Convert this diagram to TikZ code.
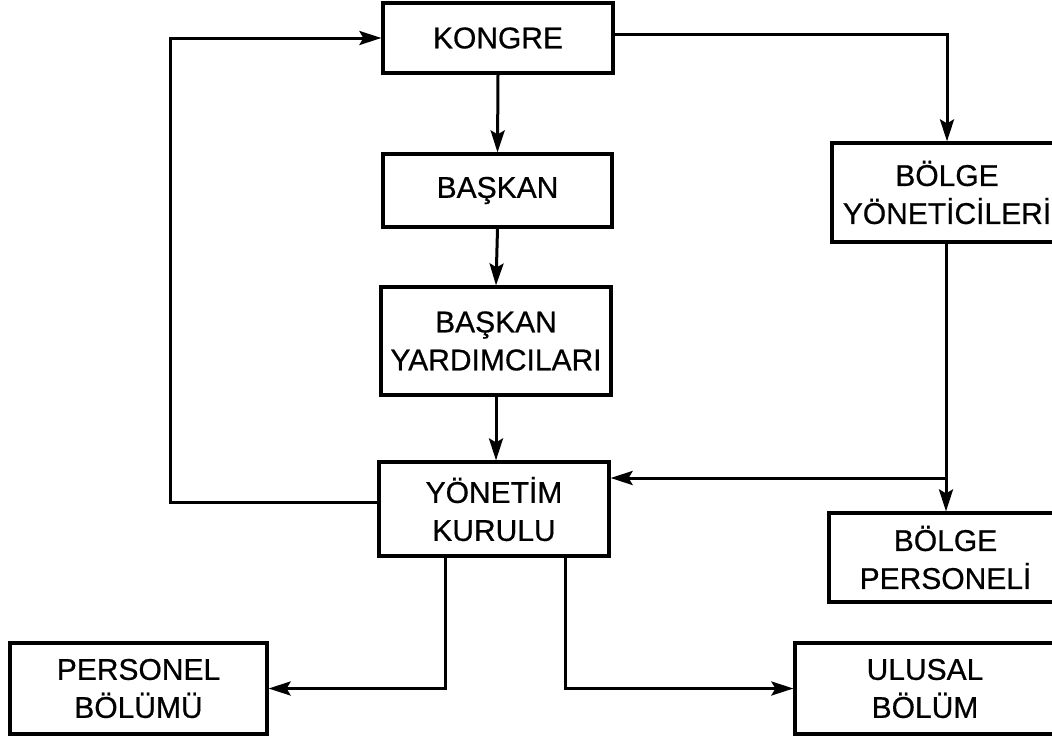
\documentclass[tikz,border=0pt]{standalone}
\usepackage{fontspec}
\setmainfont[FakeBold=0.6]{Liberation Sans}
\usetikzlibrary{arrows.meta,calc}
\begin{document}
\begin{tikzpicture}[x=1pt,y=-1pt,
  box/.style={draw,line width=3.2pt,inner sep=0pt,align=center,
    font=\fontsize{30}{38}\selectfont},
  arr/.style={line width=3pt,-{Stealth[length=22pt,width=14pt,inset=4pt]}},
  ln/.style={line width=3pt}]
\clip (0,0) rectangle (1052,737);
\fill[white] (0,0) rectangle (1052,737);
\node[box,minimum width=230pt,minimum height=70pt] (kongre) at (498,38) {KONGRE};
\node[box,minimum width=229pt,minimum height=73pt] (baskan) at (497.5,190.5) {BAŞKAN};
\node[box,minimum width=230pt,minimum height=108pt] (yard) at (496,341) {BAŞKAN\\YARDIMCILARI};
\node[box,minimum width=230pt,minimum height=94pt] (yon) at (494,509) {YÖNETİM\\KURULU};
\node[box,minimum width=230pt,minimum height=99pt] (bolgey) at (947,192.5) {BÖLGE\\YÖNETİCİLERİ};
\node[box,minimum width=233pt,minimum height=89pt] (bolgep) at (945.5,557.5) {BÖLGE\\PERSONELİ};
\node[box,minimum width=257pt,minimum height=91pt] (pers) at (138.5,688.5) {PERSONEL\\BÖLÜMÜ};
\node[box,minimum width=260pt,minimum height=91pt] (ulusal) at (925,688.5) {ULUSAL\\BÖLÜM};
\coordinate (L) at (170,0);
\coordinate (br) at (946,478);
\coordinate (d1) at (445,0);
\coordinate (d2) at (565,0);
\draw[arr] (kongre.south) -- (baskan.north);
\draw[arr] (baskan.south) -- (yard.north);
\draw[arr] (yard.south) -- (yard.south |- yon.north);
\draw[arr] ([yshift=4pt]kongre.east) -| (bolgey.north);
\draw[arr] ([yshift=7pt]yon.west) -- ([yshift=7pt]yon.west -| L) |- (kongre.west);
\draw[arr] (bolgey.south -| br) -- (bolgep.north -| br);
\draw[arr] (br) -- (br -| yon.east);
\draw[arr] (yon.south -| d1) |- (pers.east);
\draw[arr] (yon.south -| d2) |- (ulusal.west);
\end{tikzpicture}
\end{document}
